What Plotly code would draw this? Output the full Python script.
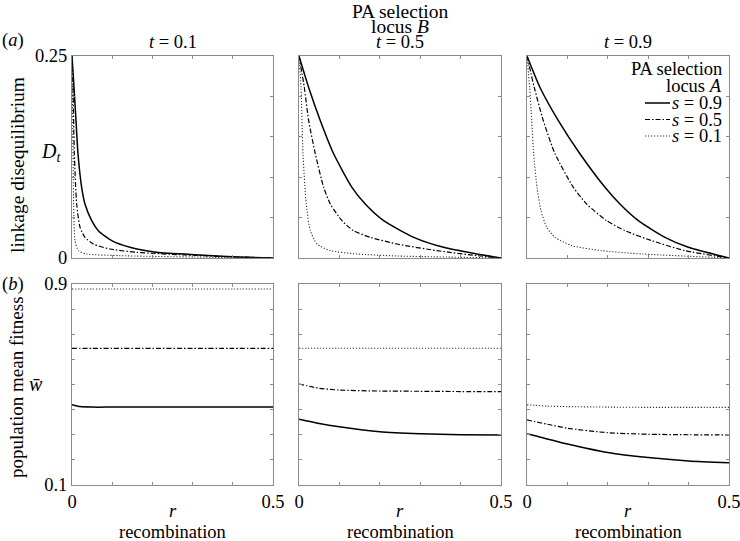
import plotly.graph_objects as go

# ---------------- data ----------------
T_LABELS = ["0.1", "0.5", "0.9"]
S_LABELS = ["0.9", "0.5", "0.1"]

# (a) linkage disequilibrium D_t vs r
R_A_T01_S09 = [0, 0.005, 0.00995, 0.0149, 0.024, 0.0323, 0.049, 0.0655, 0.0987, 0.144, 0.2106, 0.318, 0.4, 0.5]
D_A_T01_S09 = [0.25, 0.211, 0.17, 0.129, 0.0875, 0.0668, 0.0462, 0.0338, 0.0215, 0.0132, 0.0070, 0.0037, 0.0015, 0.0]
R_A_T01_S05 = [0, 0.0025, 0.0058, 0.0116, 0.02, 0.0323, 0.053, 0.0945, 0.161, 0.285, 0.4, 0.5]
D_A_T01_S05 = [0.25, 0.211, 0.129, 0.0668, 0.038, 0.0256, 0.0173, 0.0111, 0.007, 0.0037, 0.0015, 0.0]
R_A_T01_S01 = [0, 0.0017, 0.0041, 0.0075, 0.0158, 0.0365, 0.119, 0.3, 0.5]
D_A_T01_S01 = [0.25, 0.17, 0.0668, 0.0215, 0.0091, 0.005, 0.0029, 0.0012, 0.0]

R_A_T05_S09 = [0, 0.0239, 0.0528, 0.0858, 0.131, 0.164, 0.2096, 0.284, 0.358, 0.4406, 0.5]
D_A_T05_S09 = [0.25, 0.211, 0.17, 0.129, 0.0875, 0.0668, 0.0462, 0.0256, 0.0132, 0.005, 0.0]
R_A_T05_S05 = [0, 0.0132, 0.0239, 0.0404, 0.061, 0.0776, 0.1064, 0.135, 0.1766, 0.2426, 0.3416, 0.4406, 0.5]
D_A_T05_S05 = [0.25, 0.211, 0.17, 0.129, 0.0875, 0.0668, 0.0462, 0.0338, 0.0256, 0.0173, 0.0091, 0.0029, 0.0]
R_A_T05_S01 = [0, 0.005, 0.0099, 0.018, 0.028, 0.0446, 0.0776, 0.1436, 0.2426, 0.5]
D_A_T05_S01 = [0.25, 0.211, 0.129, 0.0668, 0.0338, 0.0173, 0.0091, 0.005, 0.0025, 0.0]

R_A_T09_S09 = [0, 0.0322, 0.0776, 0.131, 0.193, 0.230, 0.2756, 0.3416, 0.3993, 0.5]
D_A_T09_S09 = [0.25, 0.211, 0.17, 0.129, 0.0875, 0.0668, 0.0462, 0.0256, 0.0132, 0.0]
R_A_T09_S05 = [0, 0.018, 0.0404, 0.0693, 0.1147, 0.1477, 0.1972, 0.2426, 0.3086, 0.391, 0.5]
D_A_T09_S05 = [0.25, 0.211, 0.17, 0.129, 0.0875, 0.0668, 0.0462, 0.0338, 0.0215, 0.0091, 0.0]
R_A_T09_S01 = [0, 0.0066, 0.0116, 0.0165, 0.0248, 0.0347, 0.0487, 0.0693, 0.1106, 0.1848, 0.2838, 0.5]
D_A_T09_S01 = [0.25, 0.211, 0.17, 0.129, 0.0875, 0.0586, 0.038, 0.0256, 0.0153, 0.0091, 0.005, 0.0]

# (b) population mean fitness vs r
R_B = [0, 0.02, 0.05, 0.1, 0.2, 0.3, 0.4, 0.5]
W_T01_S09 = [0.42, 0.412, 0.41, 0.41, 0.41, 0.41, 0.41, 0.41]
W_T01_S05 = [0.644, 0.644, 0.644, 0.644, 0.644, 0.644, 0.644, 0.644]
W_T01_S01 = [0.88, 0.88, 0.88, 0.88, 0.88, 0.88, 0.88, 0.88]
W_T05_S09 = [0.362, 0.355, 0.345, 0.332, 0.312, 0.304, 0.300, 0.299]
W_T05_S05 = [0.502, 0.495, 0.485, 0.478, 0.474, 0.473, 0.472, 0.472]
W_T05_S01 = [0.644, 0.644, 0.644, 0.644, 0.644, 0.644, 0.644, 0.644]
W_T09_S09 = [0.303, 0.296, 0.283, 0.263, 0.229, 0.209, 0.196, 0.189]
W_T09_S05 = [0.359, 0.352, 0.342, 0.326, 0.308, 0.302, 0.300, 0.299]
W_T09_S01 = [0.419, 0.417, 0.414, 0.412, 0.410, 0.409, 0.409, 0.409]

X_LABEL_TICKS = [0, 0.5]
X_LABEL_TEXT = ["0", "0.5"]
YA_LABEL_TICKS = [0, 0.25]
YA_LABEL_TEXT = ["0", "0.25"]
YB_LABEL_TICKS = [0.1, 0.9]
YB_LABEL_TEXT = ["0.1", "0.9"]
X_MINOR_STEP = 0.1
YA_MINOR_STEP = 0.05
YB_MINOR_STEP = 0.1

TOP = [
    [(R_A_T01_S09, D_A_T01_S09), (R_A_T01_S05, D_A_T01_S05), (R_A_T01_S01, D_A_T01_S01)],
    [(R_A_T05_S09, D_A_T05_S09), (R_A_T05_S05, D_A_T05_S05), (R_A_T05_S01, D_A_T05_S01)],
    [(R_A_T09_S09, D_A_T09_S09), (R_A_T09_S05, D_A_T09_S05), (R_A_T09_S01, D_A_T09_S01)],
]
BOTTOM = [
    [W_T01_S09, W_T01_S05, W_T01_S01],
    [W_T05_S09, W_T05_S05, W_T05_S01],
    [W_T09_S09, W_T09_S05, W_T09_S01],
]

# ---------------- layout helpers ----------------
W, H = 740, 541
FONT = "Liberation Serif"
FS = 18.5
FRAME = "#8a8a8a"

def px(x):
    return x / W

def py(y):
    return 1 - y / H

X_DOM = [(72, 273), (299, 501), (527, 729)]
Y_TOP = (56, 258)
Y_BOT = (284, 485)

STYLES = [
    dict(color="black", width=1.5, dash="solid"),
    dict(color="black", width=1.2, dash="5px,2px,1.5px,2px"),
    dict(color="#333333", width=1.1, dash="1.2px,1.8px"),
]

fig = go.Figure()
layout = dict(
    template="none",
    width=W, height=H, autosize=False,
    margin=dict(l=0, r=0, t=0, b=0, pad=0),
    paper_bgcolor="white", plot_bgcolor="white",
    showlegend=False,
    font=dict(family=FONT, size=FS, color="black"),
)

axis_common = dict(
    showgrid=False, zeroline=False, showline=True, linecolor=FRAME, linewidth=1,
    mirror="ticks", ticks="inside", ticklen=3, tickcolor=FRAME, tickwidth=1,
    automargin=False, ticklabeloverflow="allow",
    tickfont=dict(family=FONT, size=FS, color="black"),
)

def minor(step):
    return dict(dtick=step, tick0=0, ticks="inside", ticklen=3, tickcolor=FRAME, tickwidth=1, showgrid=False)

for col in range(3):
    for row in range(2):
        idx = row * 3 + col + 1
        xname = "xaxis" if idx == 1 else f"xaxis{idx}"
        yname = "yaxis" if idx == 1 else f"yaxis{idx}"
        xref = "x" if idx == 1 else f"x{idx}"
        yref = "y" if idx == 1 else f"y{idx}"
        x0, x1 = X_DOM[col]
        ytop, ybot = Y_TOP if row == 0 else Y_BOT
        layout[xname] = dict(
            axis_common, domain=[px(x0), px(x1)], range=[0, 0.5],
            tickvals=X_LABEL_TICKS, ticktext=X_LABEL_TEXT, minor=minor(X_MINOR_STEP),
            showticklabels=(row == 1), anchor=yref,
        )
        if row == 0:
            layout[yname] = dict(
                axis_common, domain=[py(ybot), py(ytop)], range=[0, 0.25],
                tickvals=YA_LABEL_TICKS, ticktext=YA_LABEL_TEXT, minor=minor(YA_MINOR_STEP),
                showticklabels=(col == 0), anchor=xref,
            )
            for k, (rr, dd) in enumerate(TOP[col]):
                fig.add_trace(go.Scatter(
                    x=rr, y=dd, mode="lines", line=dict(STYLES[k], shape="spline", smoothing=0.6),
                    xaxis=xref, yaxis=yref, name=f"s = {S_LABELS[k]}", hoverinfo="skip",
                ))
        else:
            layout[yname] = dict(
                axis_common, domain=[py(ybot), py(ytop)], range=[0.1, 0.9],
                tickvals=YB_LABEL_TICKS, ticktext=YB_LABEL_TEXT, minor=minor(YB_MINOR_STEP),
                showticklabels=(col == 0), anchor=xref,
            )
            for k, ww in enumerate(BOTTOM[col]):
                fig.add_trace(go.Scatter(
                    x=R_B, y=ww, mode="lines", line=dict(STYLES[k], shape="spline", smoothing=0.6),
                    xaxis=xref, yaxis=yref, name=f"s = {S_LABELS[k]}", hoverinfo="skip",
                ))

fig.update_layout(**layout)

ann = []
def text(x, y, s, xanchor="center", yanchor="middle", angle=0, size=FS):
    ann.append(dict(x=px(x), y=py(y), xref="paper", yref="paper", text=s, showarrow=False,
                    xanchor=xanchor, yanchor=yanchor, textangle=angle, borderpad=0,
                    font=dict(family=FONT, size=size, color="black")))

# panel headers
for col in range(3):
    cx = (X_DOM[col][0] + X_DOM[col][1]) / 2
    text(cx, 42, f"<i>t</i> = {T_LABELS[col]}")
    text(cx, 511, "<i>r</i>")
    text(cx, 532, "recombination")
text((X_DOM[1][0] + X_DOM[1][1]) / 2, 12, "PA selection", size=19.5)
text((X_DOM[1][0] + X_DOM[1][1]) / 2, 27, "locus <i>B</i>", size=19.5)

text(1, 40, "(<i>a</i>)", xanchor="left")
text(1, 284, "(<i>b</i>)", xanchor="left")
text(17, 165, "linkage disequilibrium", angle=-90, size=19.5)
text(16, 387, "population mean fitness", angle=-90, size=19)
text(51, 152, "<i>D</i><sub><i>t</i></sub>", size=20)
text(36, 384, "<i>w\u0304</i>", size=20)

# legend (inside panel t = 0.9)
LEG_RIGHT = 723
text(LEG_RIGHT, 69, "PA selection", xanchor="right")
text(LEG_RIGHT, 86, "locus <i>A</i>", xanchor="right")
for k, lab in enumerate(S_LABELS):
    yy = 103 + 16.5 * k
    text(LEG_RIGHT, yy, f"<i>s</i> = {lab}", xanchor="right")
    fig.add_shape(type="line", xref="paper", yref="paper",
                  x0=px(645), x1=px(670), y0=py(yy), y1=py(yy),
                  line=dict(color=STYLES[k]["color"], width=STYLES[k]["width"], dash=STYLES[k]["dash"]))

fig.update_layout(annotations=ann)
fig.write_html(
    "out.html",
    config={"displayModeBar": False, "staticPlot": True},
    post_script="document.body.style.margin='0';document.body.style.padding='0';document.body.style.overflow='hidden';",
)
